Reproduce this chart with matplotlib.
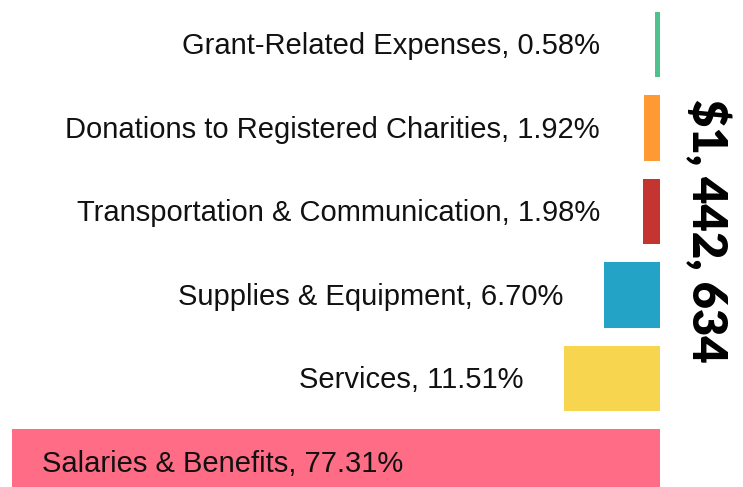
import matplotlib
matplotlib.use("Agg")
import matplotlib.pyplot as plt

categories = ["Grant-Related Expenses", "Donations to Registered Charities",
              "Transportation & Communication", "Supplies & Equipment",
              "Services", "Salaries & Benefits"]
percents = [0.58, 1.92, 1.98, 6.70, 11.51, 77.31]
colors = ["#4dc28d", "#ff9933", "#c43431", "#23a3c6", "#f7d54e", "#ff6c86"]
total_label = "$1, 442, 634"

W, H = 743, 487
fig = plt.figure(figsize=(W / 100, H / 100), dpi=100)
ax = fig.add_axes([0, 0, 1, 1])

# scale: largest bar spans 648 px, right edge at 660 px
ppu = 648 / max(percents)
ax.set_xlim(-660 / ppu, (W - 660) / ppu)
ax.set_ylim((H - 44.5) / 83.5, -44.5 / 83.5)
ax.axis("off")

ypos = list(range(len(categories)))
ax.barh(ypos, [-p for p in percents], left=0, height=0.79, color=colors)

label_font = dict(family="Liberation Sans", fontsize=21, color="#111111")
for y, name, p in zip(ypos, categories, percents):
    txt = f"{name}, {p:.2f}%"
    if p == max(percents):
        ax.text(-p + 30 / ppu, y + 0.02, txt, ha="left", va="center", **label_font)
    else:
        x = min(-p - 40 / ppu, -60 / ppu)
        ax.text(x, y + 0.02, txt, ha="right", va="center", **label_font)

fig.text(707 / W, 1 - 231 / H, total_label, rotation=-90, ha="center", va="center",
         family="Lato", fontweight="heavy", fontsize=34, color="#000000")

fig.savefig("out.png", dpi=100, facecolor="white")
